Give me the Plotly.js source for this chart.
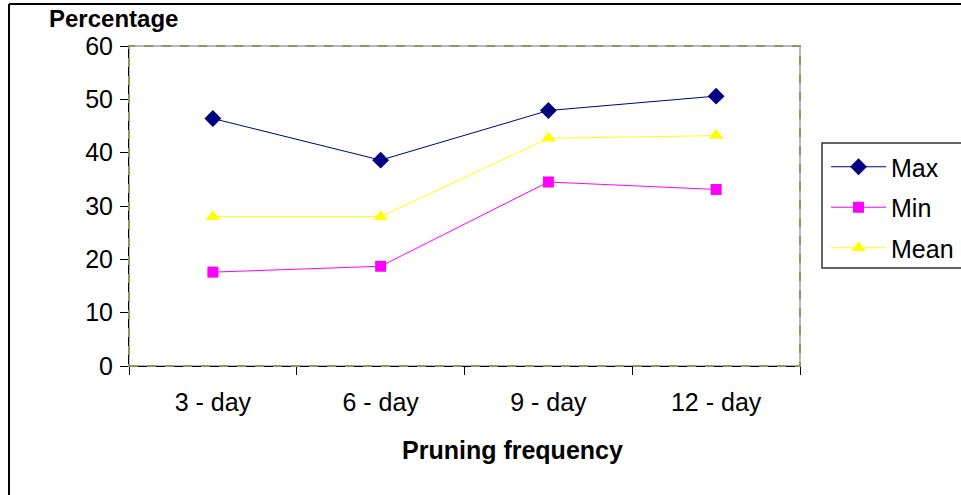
<!DOCTYPE html>
<html>
<head>
<meta charset="utf-8">
<script src="https://cdn.plot.ly/plotly-3.0.1.min.js"></script>
<style>
html,body{margin:0;padding:0;background:#fff;}
#chart{width:961px;height:495px;}
</style>
</head>
<body>
<div id="chart"></div>
<script>
const categories = ["3 - day", "6 - day", "9 - day", "12 - day"];
const maxValues = [46.4, 38.6, 47.9, 50.6];
const minValues = [17.6, 18.7, 34.5, 33.1];
const meanValues = [28.0, 28.0, 42.7, 43.2];
const yTicks = [0, 10, 20, 30, 40, 50, 60];

const font = "Arial, 'Liberation Sans', sans-serif";
const fs = 25;

const traces = [
  {x: categories, y: maxValues, name: "Max", type: "scatter", mode: "lines+markers",
   legendgroup: "a",
   line: {color: "#000080", width: 1}, marker: {symbol: "diamond", size: 13, color: "#000080"}},
  {x: categories, y: minValues, name: "Min", type: "scatter", mode: "lines+markers",
   legendgroup: "b",
   line: {color: "#FF00FF", width: 1}, marker: {symbol: "square", size: 11, color: "#FF00FF"}},
  {x: categories, y: meanValues, name: "Mean", type: "scatter", mode: "lines+markers",
   legendgroup: "c",
   line: {color: "#FFFF00", width: 1}, marker: {symbol: "triangle-up", size: 13, color: "#FFFF00"}}
];

const px = v => (v - 129) / 671;
const py = v => (366 - v) / 320;

const layout = {
  width: 961, height: 495,
  margin: {l: 129, r: 161, t: 46, b: 129, pad: 0, autoexpand: false},
  paper_bgcolor: "#fff", plot_bgcolor: "#fff",
  font: {family: font, size: fs, color: "#000"},
  showlegend: true,
  legend: {
    x: px(826), xanchor: "left", y: py(144), yanchor: "top",
    borderwidth: 0, bgcolor: "rgba(0,0,0,0)",
    font: {family: font, size: fs, color: "#000"},
    tracegroupgap: 5, traceorder: "grouped", itemwidth: 55
  },
  xaxis: {
    type: "category", range: [-0.5, 3.5],
    tickson: "boundaries", ticks: "outside", ticklen: 8, tickcolor: "#000",
    ticklabelstandoff: 14,
    showline: true, linecolor: "#000", linewidth: 1,
    showgrid: false, zeroline: false,
    tickfont: {family: font, size: fs, color: "#000"},
    fixedrange: true
  },
  yaxis: {
    range: [0, 60], tickvals: yTicks, ticktext: yTicks.map(String),
    ticks: "outside", ticklen: 8, tickcolor: "#000",
    ticklabelstandoff: 2,
    showline: true, linecolor: "#000", linewidth: 1,
    showgrid: false, zeroline: false,
    tickfont: {family: font, size: fs, color: "#000"},
    fixedrange: true
  },
  shapes: [
    {type: "rect", xref: "paper", yref: "paper", x0: 0, x1: 1, y0: 0, y1: 1,
     line: {color: "#b8b8b8", width: 2}, layer: "below"},
    {type: "rect", xref: "paper", yref: "paper", x0: 0, x1: 1, y0: 0, y1: 1,
     line: {color: "#8a9a5b", width: 2, dash: "dash"}, layer: "above"},
    {type: "rect", xref: "paper", yref: "paper", x0: px(822), x1: px(975), y0: py(143), y1: py(268),
     line: {color: "#333", width: 1.5}, fillcolor: "rgba(0,0,0,0)", layer: "above"},
    {type: "line", xref: "paper", yref: "paper", x0: -0.1788, x1: 1.25, y0: 1.131, y1: 1.131,
     line: {color: "#000", width: 2}},
    {type: "line", xref: "paper", yref: "paper", x0: -0.1788, x1: -0.1788, y0: 1.131, y1: -0.42,
     line: {color: "#000", width: 2}}
  ],
  annotations: [
    {text: "<b>Percentage</b>", xref: "paper", yref: "paper",
     x: px(113), y: py(19), xanchor: "center", yanchor: "middle",
     showarrow: false, font: {family: font, size: 24, color: "#000"}},
    {text: "<b>Pruning frequency</b>", xref: "paper", yref: "paper",
     x: px(512), y: py(450), xanchor: "center", yanchor: "middle",
     showarrow: false, font: {family: font, size: fs, color: "#000"}}
  ]
};

Plotly.newPlot("chart", traces, layout, {displayModeBar: false, staticPlot: true});
</script>
</body>
</html>
